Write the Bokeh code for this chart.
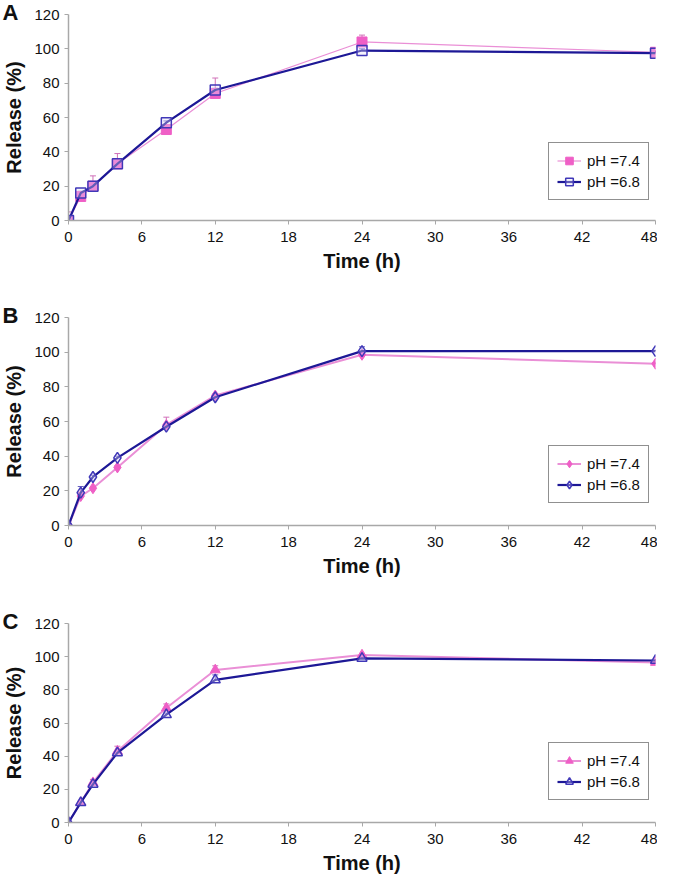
from bokeh.plotting import figure
from bokeh.layouts import column
from bokeh.models import Legend, LegendItem, Title, FixedTicker, Range1d
from bokeh.embed import file_html
from bokeh.resources import INLINE

# ---- data ----
time_h = [0, 1, 2, 4, 8, 12, 24, 48]
x_ticks = [0, 6, 12, 18, 24, 30, 36, 42, 48]
y_ticks = [0, 20, 40, 60, 80, 100, 120]

a_ph74 = [0, 14, 20, 33, 53, 74, 104, 98]
a_ph74_err = [5, 2, 6, 6, 2, 9, 4, 1]
a_ph68 = [0, 16, 20, 33, 57, 76, 99, 97.5]
a_ph68_err = [0, 1, 1, 1, 1, 1, 1, 1]

b_ph74 = [0, 17, 21.5, 33.5, 58, 75, 98.5, 93.3]
b_ph74_err = [2, 2, 1, 1, 4.5, 1, 1, 0.5]
b_ph68 = [0, 19, 28, 39, 57, 74, 100.6, 100.6]
b_ph68_err = [1, 3.5, 1, 1, 1, 1, 2.5, 0.5]

c_ph74 = [0, 12, 24, 43, 69, 92, 101, 96.5]
c_ph74_err = [0.5, 1, 2, 3, 2.5, 2.5, 1, 0.5]
c_ph68 = [0, 12, 23, 42, 65, 86, 99, 97.7]
c_ph68_err = [0.5, 0.5, 1, 1, 1, 3, 0.5, 0.5]

panel_letters = ["A", "B", "C"]
series_labels = ["pH =7.4", "pH =6.8"]

PINK_LINE = "#ea8fd6"
PINK_MARK = "#ef5fc6"
NAVY_LINE = "#1d1896"
NAVY_MARK = "#4038b8"
FONT = "Liberation Sans"


def make_panel(letter, y74, e74, y68, e68, marker, height, b_top, b_bottom,
               legend_y, pink_width=1.5):
    p = figure(width=657, height=height, output_backend="svg",
               toolbar_location=None, x_range=Range1d(0, 48),
               y_range=Range1d(0, 120), min_border_left=59,
               min_border_right=2, min_border_top=b_top,
               min_border_bottom=b_bottom)
    p.outline_line_color = None
    p.grid.visible = False
    p.background_fill_color = "white"

    for ax in (p.xaxis[0], p.yaxis[0]):
        ax.axis_line_color = "#a8a8a8"
        ax.axis_line_width = 1.5
        ax.major_tick_line_color = "#a8a8a8"
        ax.major_tick_out = 4
        ax.major_tick_in = 0
        ax.minor_tick_line_color = None
        ax.major_label_text_font = FONT
        ax.major_label_text_font_size = "15px"
        ax.major_label_text_color = "#111111"
        ax.axis_label_text_font = FONT
        ax.axis_label_text_font_size = "20px"
        ax.axis_label_text_font_style = "bold"
        ax.axis_label_text_color = "#111111"
    p.xaxis.ticker = FixedTicker(ticks=x_ticks)
    p.yaxis.ticker = FixedTicker(ticks=y_ticks)
    p.xaxis.axis_label = "Time (h)"
    p.yaxis.axis_label = "Release (%)"
    p.xaxis.major_label_standoff = 7
    p.xaxis.axis_label_standoff = 5
    p.yaxis.major_label_standoff = 5
    p.yaxis.axis_label_standoff = 6

    # error bars (upper)
    up74 = [v + e for v, e in zip(y74, e74)]
    up68 = [v + e for v, e in zip(y68, e68)]
    p.segment(x0=time_h, y0=y74, x1=time_h, y1=up74, line_color="#d070b8", line_width=1)
    p.scatter(x=time_h, y=up74, marker="dash", size=6, line_color="#d070b8", line_width=1)
    p.segment(x0=time_h, y0=y68, x1=time_h, y1=up68, line_color="#6860c0", line_width=1)
    p.scatter(x=time_h, y=up68, marker="dash", size=6, line_color="#6860c0", line_width=1)

    msize = 10 if marker != "diamond" else 11
    l1 = p.line(time_h, y74, line_color=PINK_LINE, line_width=pink_width)
    m1 = p.scatter(time_h, y74, marker=marker, size=msize, fill_color=PINK_MARK,
                   line_color=PINK_MARK, line_width=1)
    l2 = p.line(time_h, y68, line_color=NAVY_LINE, line_width=2.2)
    m2 = p.scatter(time_h, y68, marker=marker, size=msize, fill_color="#e6e0f8",
                   fill_alpha=0.35, line_color=NAVY_MARK, line_width=1.5)

    legend = Legend(items=[LegendItem(label=series_labels[0], renderers=[l1, m1]),
                           LegendItem(label=series_labels[1], renderers=[l2, m2])],
                    location=(480, legend_y))
    legend.border_line_color = "#222222"
    legend.border_line_width = 1
    legend.label_text_font = FONT
    legend.label_text_font_size = "15px"
    legend.label_text_color = "#111111"
    legend.glyph_width = 24
    legend.glyph_height = 19
    legend.label_height = 19
    legend.label_standoff = 6
    legend.padding = 8
    legend.spacing = 2
    legend.margin = 0
    legend.background_fill_alpha = 1
    p.add_layout(legend, "center")

    t = Title(text=letter, align="left", offset=-66, standoff=-22,
              vertical_align="middle", text_font=FONT, text_font_size="22px",
              text_font_style="bold", text_color="#111111")
    p.add_layout(t, "above")
    return p


pa = make_panel(panel_letters[0], a_ph74, a_ph74_err, a_ph68, a_ph68_err,
                "square", 290, 14, 70, 20, pink_width=1.2)
pb = make_panel(panel_letters[1], b_ph74, b_ph74_err, b_ph68, b_ph68_err,
                "diamond", 300, 27, 65, 22, pink_width=2)
pc = make_panel(panel_letters[2], c_ph74, c_ph74_err, c_ph68, c_ph68_err,
                "triangle", 286, 33, 45, 22, pink_width=2)

layout = column(pa, pb, pc, spacing=0)
open("out.html", "w").write(file_html(layout, INLINE))
